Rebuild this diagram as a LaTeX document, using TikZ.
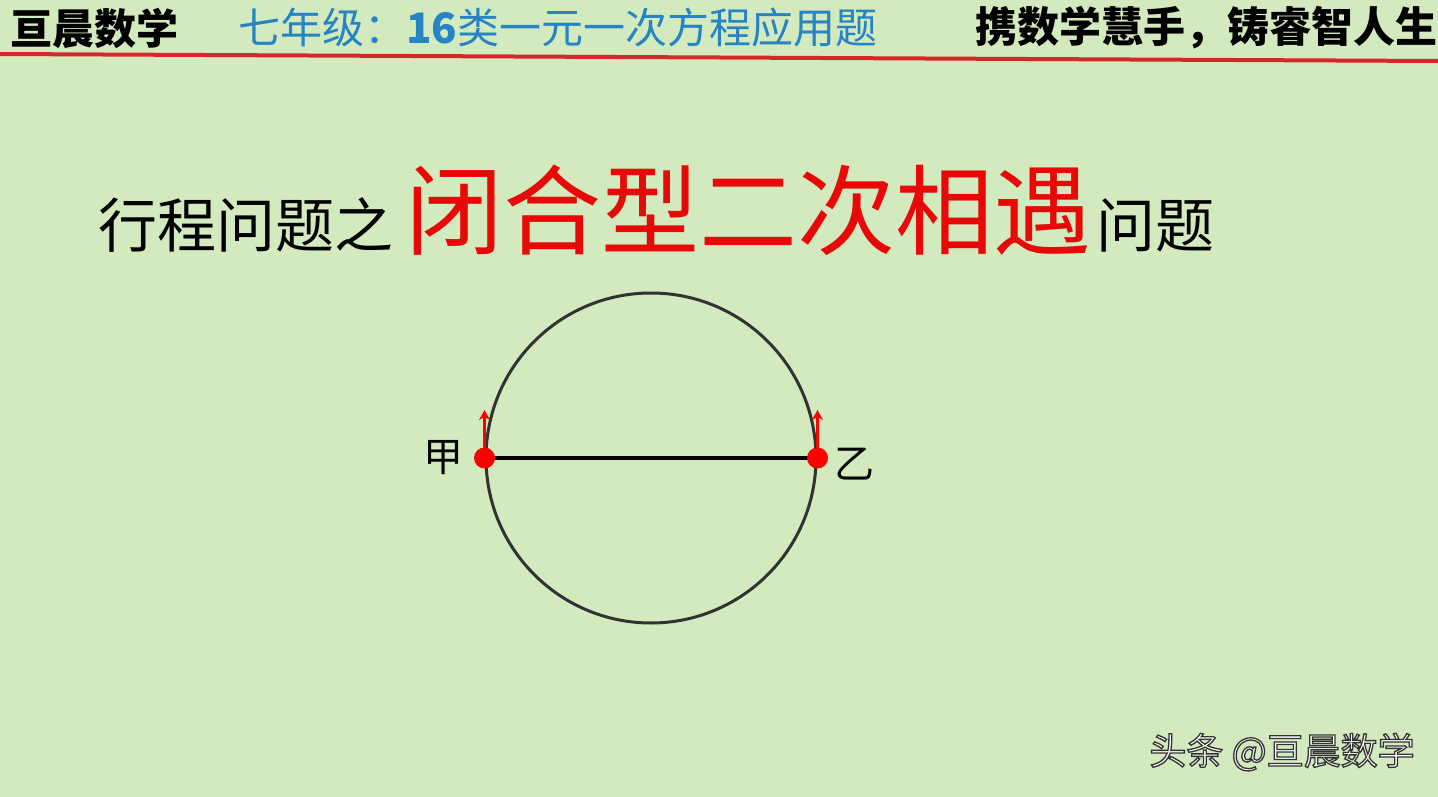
\documentclass[tikz,border=0pt]{standalone}
\usepackage{fontspec}
\setmainfont{Noto Sans CJK SC}
\usetikzlibrary{arrows.meta, positioning}

\definecolor{bgGreen}{RGB}{211,234,190}
\definecolor{headBlue}{RGB}{38,132,196}
\definecolor{lineRed}{RGB}{214,40,40}
\definecolor{titleRed}{RGB}{232,8,8}
\definecolor{ringGray}{RGB}{50,50,50}

% white letters with a dark outline
\newcommand{\outlinetext}[1]{{\color{white}\special{pdf:literal direct 2 Tr 1.3 w 0.2 0.2 0.2 RG}#1\special{pdf:literal direct 0 Tr}}}

\begin{document}
\begin{tikzpicture}[x=1pt, y=-1pt,
    header/.style={anchor=west, inner sep=0pt, font=\fontsize{42}{42}\selectfont},
    titleblack/.style={anchor=base west, inner sep=0pt, font=\fontsize{59}{59}\selectfont},
    titlered/.style={anchor=base west, inner sep=0pt, text=titleRed, font=\fontsize{98}{98}\selectfont},
    dot/.style={circle, fill=red, minimum size=21pt, inner sep=0pt},
    runarrow/.style={red, line width=3pt, -{Stealth[length=10pt, width=11pt]}},
    pointlabel/.style={inner sep=0pt, font=\fontsize{40}{40}\selectfont}
  ]
  \useasboundingbox (0,0) rectangle (1438,797);
  \fill[bgGreen] (0,0) rectangle (1438,797);

  % Header bar
  \node[header, font=\fontsize{42}{42}\selectfont\bfseries] (brand) at (10,28) {亘晨数学};
  \node[header, text=headBlue] (course) at (238,28) {七年级：{\bfseries 16}类一元一次方程应用题};
  \node[header, font=\fontsize{42}{42}\selectfont\bfseries] (motto) at (975,28) {携数学慧手，铸睿智人生};
  \draw[lineRed, line width=4pt] (0,54) -- (1438,61);

  % Title
  \node[titleblack] (titleA) at (98,247) {行程问题之};
  \node[titlered, xshift=12pt] (titleB) at (titleA.base east) {闭合型二次相遇};
  \node[titleblack, xshift=4pt] (titleC) at (titleB.base east) {问题};

  % Ring track
  \node[draw=ringGray, line width=3pt, circle, minimum size=330pt, inner sep=0pt] (ring) at (651,458) {};
  \draw[black, line width=3.5pt] (ring.west) -- (ring.east);
  \node[dot] (jia) at (ring.west) {};
  \node[dot] (yi) at (ring.east) {};
  \coordinate (jiaTip) at ([yshift=48pt]jia.center);
  \coordinate (yiTip) at ([yshift=48pt]yi.center);
  \draw[runarrow] (jia.center) -- (jiaTip);
  \draw[runarrow] (yi.center) -- (yiTip);
  \node[pointlabel, left=10pt of jia] (jiaName) {甲};
  \node[pointlabel, right=6pt of yi, yshift=-6pt] (yiName) {乙};

  % Watermark
  \node[inner sep=0pt, font=\fontsize{37}{37}\selectfont] (mark) at (1282,752) {\outlinetext{头条 @亘晨数学}};
\end{tikzpicture}
\end{document}
